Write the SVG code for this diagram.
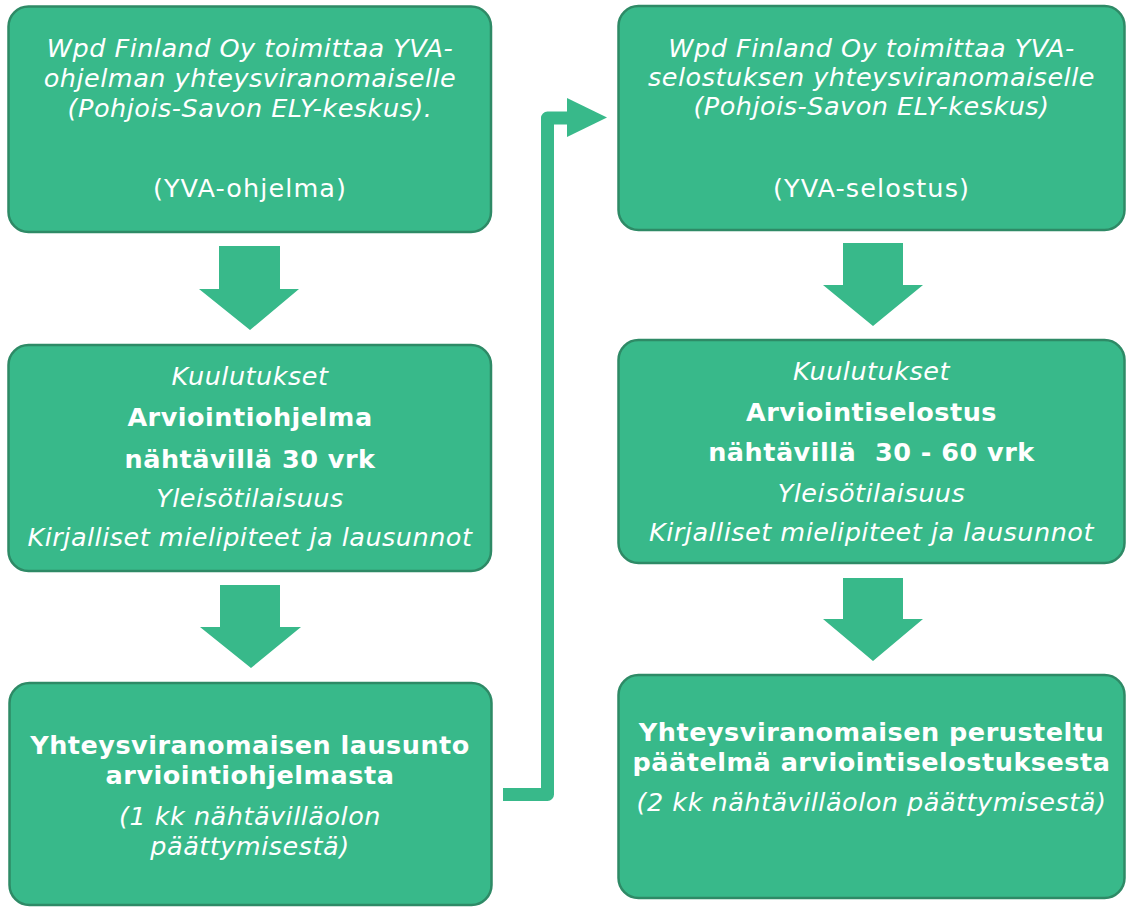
<svg xmlns="http://www.w3.org/2000/svg" width="1127" height="908" viewBox="0 0 1127 908">
<style>
.box{fill:#38B98A;stroke:#2E8A66;stroke-width:2.5}
.arr{fill:#38B98A}
text{font-family:"DejaVu Sans",Verdana,"Liberation Sans",sans-serif;font-size:25.5px;letter-spacing:0.5px;fill:#ffffff;text-anchor:middle}
.r{letter-spacing:1.1px}
.i{font-style:italic}
.b{font-weight:bold}
.conn{fill:none;stroke:#38B98A;stroke-width:13;stroke-linejoin:round}
</style>
<rect width="1127" height="908" fill="#ffffff"/>
<g id="connectors">
<polygon class="arr" points="219,246 280,246 280,289 299,289 250,330 199,289 219,289"/>
<polygon class="arr" points="220,585 280,585 280,627 301,627 251,668 200,627 220,627"/>
<polygon class="arr" points="843,243 903,243 903,285 923,285 873,326 823,285 843,285"/>
<polygon class="arr" points="843,578 903,578 903,619 923,619 873,661 823,619 843,619"/>
<path class="conn" d="M503,794.5 H547.5 V118 H572"/>
<polygon class="arr" points="567,98 607,117.5 567,137"/>
</g>
<g id="node-yva-ohjelma">
<rect class="box" x="8.5" y="6.5" width="482.5" height="225.5" rx="20"/>
<text class="i" x="250" y="57">Wpd Finland Oy toimittaa YVA-</text>
<text class="i" x="250" y="87">ohjelman yhteysviranomaiselle</text>
<text class="i" x="250" y="117">(Pohjois-Savon ELY-keskus).</text>
<text class="r" x="250" y="197">(YVA-ohjelma)</text>
</g>
<g id="node-kuulutukset-1">
<rect class="box" x="8.5" y="345" width="482.5" height="226" rx="20"/>
<text class="i" x="250" y="385">Kuulutukset</text>
<text class="b" x="250" y="426">Arviointiohjelma</text>
<text class="b" x="250" y="468">nähtävillä 30 vrk</text>
<text class="i" x="250" y="507">Yleisötilaisuus</text>
<text class="i" x="250" y="546">Kirjalliset mielipiteet ja lausunnot</text>
</g>
<g id="node-lausunto">
<rect class="box" x="9.5" y="683" width="482" height="222" rx="20"/>
<text class="b" x="250" y="754">Yhteysviranomaisen lausunto</text>
<text class="b" x="250" y="784">arviointiohjelmasta</text>
<text class="i" x="250" y="825">(1 kk nähtävilläolon</text>
<text class="i" x="250" y="855">päättymisestä)</text>
</g>
<g id="node-yva-selostus">
<rect class="box" x="618.5" y="6" width="506" height="224" rx="20"/>
<text class="i" x="871.5" y="57">Wpd Finland Oy toimittaa YVA-</text>
<text class="i" x="871.5" y="86">selostuksen yhteysviranomaiselle</text>
<text class="i" x="871.5" y="115">(Pohjois-Savon ELY-keskus)</text>
<text class="r" x="871.5" y="197">(YVA-selostus)</text>
</g>
<g id="node-kuulutukset-2">
<rect class="box" x="618.5" y="340" width="506" height="223" rx="20"/>
<text class="i" x="871.5" y="380">Kuulutukset</text>
<text class="b" x="871.5" y="421">Arviointiselostus</text>
<text class="b" x="871.5" y="461" xml:space="preserve">nähtävillä  30 - 60 vrk</text>
<text class="i" x="871.5" y="502">Yleisötilaisuus</text>
<text class="i" x="871.5" y="541">Kirjalliset mielipiteet ja lausunnot</text>
</g>
<g id="node-paatelma">
<rect class="box" x="618.5" y="675" width="506" height="223" rx="20"/>
<text class="b" x="871.5" y="741">Yhteysviranomaisen perusteltu</text>
<text class="b" x="871.5" y="771">päätelmä arviointiselostuksesta</text>
<text class="i" x="871.5" y="811">(2 kk nähtävilläolon päättymisestä)</text>
</g>
</svg>
